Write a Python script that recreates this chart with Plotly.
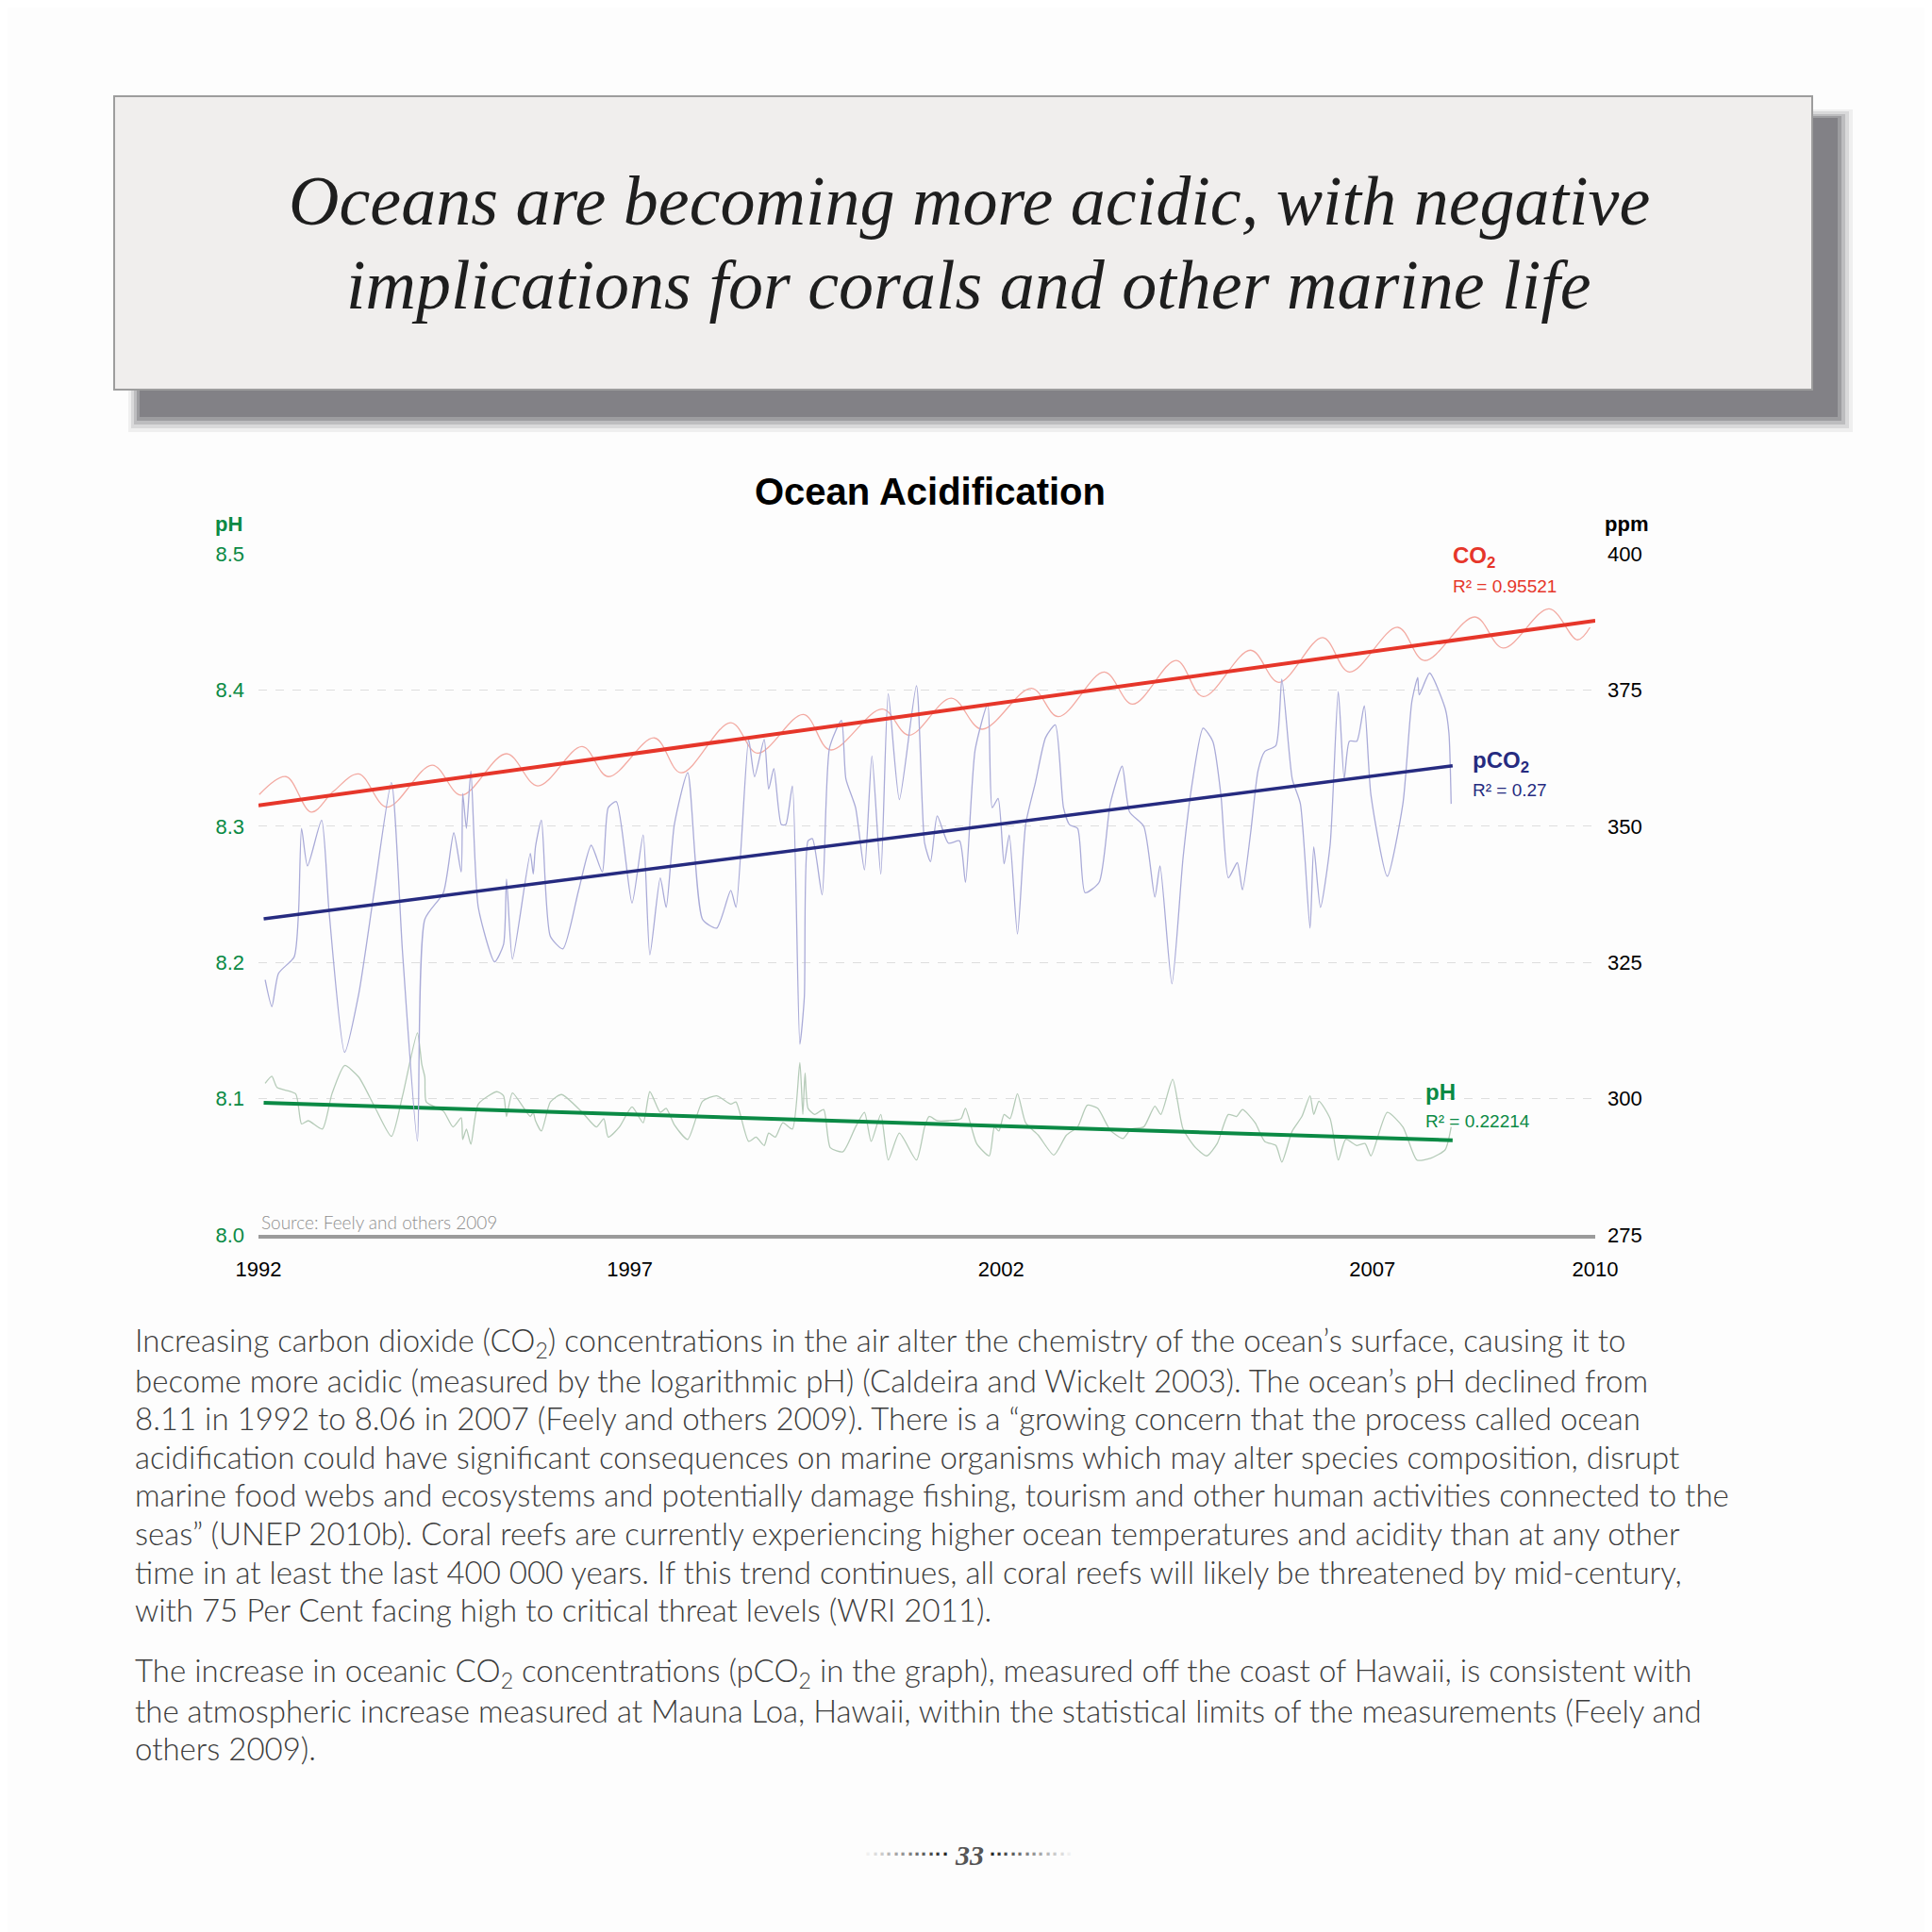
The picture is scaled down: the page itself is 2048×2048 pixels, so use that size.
import plotly.graph_objects as go

# ---------------- data ----------------
co2_years = [1992.01, 1992.37, 1992.71, 1993.01, 1993.35, 1993.73, 1994.34, 1994.73, 1995.34, 1995.76,
             1996.36, 1996.71, 1997.33, 1997.69, 1998.36, 1998.72, 1999.34, 1999.70, 2000.40, 2000.76,
             2001.33, 2001.74, 2002.41, 2002.77, 2003.39, 2003.77, 2004.36, 2004.72, 2005.36, 2005.74,
             2006.33, 2006.69, 2007.34, 2007.70, 2008.38, 2008.76, 2009.38, 2009.76, 2009.93]
co2_ppm = [355.8, 359.1, 352.6, 356.4, 359.6, 353.5, 361.2, 355.7, 363.3, 357.4,
           364.6, 359.1, 366.2, 359.8, 369.0, 363.4, 370.5, 364.0, 371.5, 366.7,
           373.5, 367.8, 375.3, 370.1, 378.3, 372.4, 380.4, 373.8, 382.3, 376.4,
           384.6, 378.3, 386.5, 380.4, 388.4, 382.7, 389.9, 384.2, 386.5]

pco2_years = [1992.09, 1992.18, 1992.27, 1992.48, 1992.54, 1992.58, 1992.66, 1992.85, 1992.95, 1993.16,
              1993.35, 1993.56, 1993.79, 1993.94, 1994.14, 1994.24, 1994.49, 1994.63, 1994.73, 1994.75,
              1994.80, 1994.86, 1994.96, 1995.18, 1995.30, 1995.34, 1995.42, 1995.66, 1995.70, 1995.73,
              1995.81, 1995.93, 1996.10, 1996.31, 1996.48, 1996.63, 1996.71, 1996.82, 1997.03, 1997.18,
              1997.27, 1997.41, 1997.49, 1997.60, 1997.78, 1997.98, 1998.17, 1998.36, 1998.43, 1998.60,
              1998.68, 1998.81, 1998.87, 1998.94, 1999.04, 1999.10, 1999.19, 1999.29, 1999.35, 1999.40,
              1999.46, 1999.59, 1999.69, 1999.85, 1999.91, 2000.04, 2000.16, 2000.26, 2000.38, 2000.48,
              2000.63, 2000.86, 2000.97, 2001.05, 2001.14, 2001.29, 2001.44, 2001.52, 2001.65, 2001.82,
              2001.88, 2001.96, 2002.04, 2002.11, 2002.22, 2002.33, 2002.46, 2002.60, 2002.73, 2002.84,
              2002.92, 2003.03, 2003.13, 2003.32, 2003.47, 2003.63, 2003.73, 2003.92, 2004.07, 2004.14,
              2004.30, 2004.45, 2004.57, 2004.72, 2004.85, 2004.96, 2005.06, 2005.18, 2005.25, 2005.36,
              2005.46, 2005.55, 2005.70, 2005.78, 2005.92, 2006.03, 2006.16, 2006.21, 2006.30, 2006.43,
              2006.54, 2006.62, 2006.69, 2006.79, 2006.89, 2006.98, 2007.20, 2007.41, 2007.53, 2007.61,
              2007.63, 2007.77, 2007.98, 2008.03, 2008.06]
pco2_ppm = [321.8, 316.9, 323.0, 326.0, 334.4, 349.6, 342.7, 351.1, 334.4, 308.5,
            319.2, 338.2, 358.0, 326.8, 292.2, 332.9, 337.8, 348.8, 341.6, 356.0,
            349.6, 360.1, 335.1, 325.1, 328.3, 340.3, 325.6, 345.0, 341.2, 346.2,
            351.1, 329.8, 327.5, 338.2, 346.5, 341.6, 353.4, 354.5, 335.9, 348.4,
            326.4, 340.5, 335.1, 350.3, 359.8, 332.9, 331.3, 338.2, 335.1, 365.9,
            359.1, 365.9, 356.8, 360.6, 350.3, 350.3, 357.4, 310.0, 318.6, 347.3,
            347.7, 337.4, 364.4, 369.4, 358.7, 353.4, 342.0, 362.9, 341.2, 374.3,
            354.9, 375.8, 346.9, 343.5, 351.9, 346.9, 347.3, 339.7, 364.0, 372.4,
            353.4, 355.1, 343.1, 348.4, 330.2, 350.3, 357.9, 366.3, 368.6, 353.4,
            350.3, 349.6, 337.8, 339.7, 354.1, 361.0, 352.6, 350.0, 337.0, 342.7,
            321.1, 344.2, 357.6, 368.0, 365.6, 355.7, 340.5, 343.3, 338.3, 348.8,
            360.2, 363.7, 364.8, 377.0, 358.7, 354.1, 331.3, 346.2, 335.1, 346.5,
            374.7, 358.7, 365.6, 365.6, 372.1, 355.7, 340.8, 354.1, 372.8, 377.3,
            374.1, 378.1, 371.6, 367.1, 354.1]

ph_years = [1992.09, 1992.18, 1992.25, 1992.50, 1992.58, 1992.67, 1992.86, 1992.99, 1993.16, 1993.35,
            1993.56, 1993.79, 1993.94, 1994.14, 1994.20, 1994.24, 1994.26, 1994.49, 1994.62, 1994.73,
            1994.75, 1994.80, 1994.86, 1994.96, 1995.21, 1995.30, 1995.34, 1995.42, 1995.66, 1995.70,
            1995.73, 1995.81, 1995.93, 1996.08, 1996.36, 1996.55, 1996.65, 1996.71, 1996.86, 1997.03,
            1997.18, 1997.27, 1997.41, 1997.49, 1997.60, 1997.78, 1997.98, 1998.17, 1998.36, 1998.43,
            1998.60, 1998.70, 1998.81, 1998.87, 1998.96, 1999.06, 1999.19, 1999.29, 1999.33, 1999.36,
            1999.40, 1999.49, 1999.61, 1999.70, 1999.87, 2000.04, 2000.16, 2000.25, 2000.38, 2000.48,
            2000.63, 2000.86, 2000.97, 2001.03, 2001.14, 2001.29, 2001.46, 2001.52, 2001.67, 2001.84,
            2001.91, 2001.97, 2002.04, 2002.12, 2002.22, 2002.33, 2002.50, 2002.71, 2002.88, 2003.03,
            2003.16, 2003.30, 2003.47, 2003.64, 2003.75, 2003.92, 2004.07, 2004.15, 2004.31, 2004.45,
            2004.62, 2004.77, 2004.91, 2005.06, 2005.17, 2005.25, 2005.42, 2005.55, 2005.70, 2005.78,
            2005.92, 2006.05, 2006.16, 2006.21, 2006.28, 2006.43, 2006.54, 2006.64, 2006.79, 2006.90,
            2006.98, 2007.20, 2007.41, 2007.60, 2007.79, 2007.98, 2008.06]
ph_values = [8.1112, 8.1164, 8.1082, 8.1036, 8.0814, 8.0838, 8.0777, 8.1036, 8.1243, 8.1158,
             8.0945, 8.0723, 8.1021, 8.1483, 8.1249, 8.1158, 8.0975, 8.0908, 8.0792, 8.0859,
             8.0701, 8.0777, 8.0665, 8.0960, 8.1051, 8.1021, 8.0869, 8.1042, 8.0869, 8.0899,
             8.0838, 8.0762, 8.0975, 8.1030, 8.0899, 8.0792, 8.0853, 8.0717, 8.0792, 8.0939,
             8.0823, 8.1051, 8.0899, 8.0929, 8.0808, 8.0701, 8.0981, 8.1021, 8.0960, 8.0975,
             8.0686, 8.0717, 8.0656, 8.0747, 8.0717, 8.0823, 8.0777, 8.1264, 8.0884, 8.1188,
             8.0929, 8.0884, 8.0920, 8.0640, 8.0610, 8.0792, 8.0899, 8.0686, 8.0884, 8.0549,
             8.0747, 8.0549, 8.0792, 8.0869, 8.0838, 8.0838, 8.0853, 8.0929, 8.0671, 8.0580,
             8.0792, 8.0762, 8.0884, 8.0853, 8.1036, 8.0823, 8.0732, 8.0586, 8.0732, 8.0792,
             8.0951, 8.0929, 8.0768, 8.0707, 8.0777, 8.0792, 8.0945, 8.0884, 8.1142, 8.0777,
             8.0640, 8.0580, 8.0671, 8.0884, 8.0869, 8.0920, 8.0823, 8.0686, 8.0656, 8.0534,
             8.0762, 8.0869, 8.1021, 8.0884, 8.0981, 8.0853, 8.0549, 8.0701, 8.0656, 8.0671,
             8.0580, 8.0899, 8.0792, 8.0549, 8.0564, 8.0625, 8.0792]

co2_trend_years = [1992.0, 2010.0]
co2_trend_ppm = [353.8, 387.7]
pco2_trend_years = [1992.07, 2008.08]
pco2_trend_ppm = [333.0, 361.1]
ph_trend_years = [1992.07, 2008.08]
ph_trend_values = [8.097, 8.0695]

x_ticks = [1992, 1997, 2002, 2007, 2010]
ph_ticks = [8.0, 8.1, 8.2, 8.3, 8.4, 8.5]
ppm_ticks = [275, 300, 325, 350, 375, 400]

body_para1 = [
    "Increasing carbon dioxide (CO<sub>2</sub>) concentrations in the air alter the chemistry of the ocean’s surface, causing it to",
    "become more acidic (measured by the logarithmic pH) (Caldeira and Wickelt 2003). The ocean’s pH declined from",
    "8.11 in 1992 to 8.06 in 2007 (Feely and others 2009). There is a “growing concern that the process called ocean",
    "acidification could have significant consequences on marine organisms which may alter species composition, disrupt",
    "marine food webs and ecosystems and potentially damage fishing, tourism and other human activities connected to the",
    "seas” (UNEP 2010b). Coral reefs are currently experiencing higher ocean temperatures and acidity than at any other",
    "time in at least the last 400 000 years. If this trend continues, all coral reefs will likely be threatened by mid-century,",
    "with 75 Per Cent facing high to critical threat levels (WRI 2011).",
]
body_para2 = [
    "The increase in oceanic CO<sub>2</sub> concentrations (pCO<sub>2</sub> in the graph), measured off the coast of Hawaii, is consistent with",
    "the atmospheric increase measured at Mauna Loa, Hawaii, within the statistical limits of the measurements (Feely and",
    "others 2009).",
]

# ---------------- layout helpers ----------------
W, H = 2048, 2048
OFF = 8  # page body margin of the html page
PW, PH = 1417, 722
L, T = 274 - OFF, 587 - OFF
R, B = W - L - PW, H - T - PH


def px(x, y):
    """Convert target-picture pixel position to paper coordinates."""
    return ((x - OFF) - L) / PW, (H - B - (y - OFF)) / PH


RED, RED_L = "#e6362a", "#f3aaa2"
NAVY, NAVY_L = "#262b80", "#aaabd8"
GREEN, GREEN_L = "#0b8a45", "#b5cbb8"
SANS = "Liberation Sans"

fig = go.Figure()
fig.add_trace(go.Scatter(x=co2_years, y=co2_ppm, yaxis="y2", mode="lines",
                         line=dict(color=RED_L, width=1.3, shape="spline", smoothing=1.0)))
fig.add_trace(go.Scatter(x=pco2_years, y=pco2_ppm, yaxis="y2", mode="lines",
                         line=dict(color=NAVY_L, width=1.3, shape="spline", smoothing=0.6)))
fig.add_trace(go.Scatter(x=ph_years, y=ph_values, yaxis="y", mode="lines",
                         line=dict(color=GREEN_L, width=1.3, shape="spline", smoothing=0.6)))
fig.add_trace(go.Scatter(x=co2_trend_years, y=co2_trend_ppm, yaxis="y2", mode="lines",
                         line=dict(color=RED, width=4)))
fig.add_trace(go.Scatter(x=pco2_trend_years, y=pco2_trend_ppm, yaxis="y2", mode="lines",
                         line=dict(color=NAVY, width=3.5)))
fig.add_trace(go.Scatter(x=ph_trend_years, y=ph_trend_values, yaxis="y", mode="lines",
                         line=dict(color=GREEN, width=4)))

shapes = []
# title box shadow (soft)
for (x0, y0, x1, y1, a) in [(136, 116, 1964, 458, 0.10), (139, 118, 1960, 454, 0.18),
                            (142, 121, 1956, 450, 0.28), (145, 123, 1952, 446, 0.45),
                            (148, 125, 1948, 442, 0.70)]:
    p0 = px(x0, y0); p1 = px(x1, y1)
    shapes.append(dict(type="rect", xref="paper", yref="paper", x0=p0[0], y0=p1[1], x1=p1[0], y1=p0[1],
                       fillcolor=f"rgba(118,117,122,{a})", line=dict(width=0)))
p0 = px(121, 102); p1 = px(1921, 413)
shapes.append(dict(type="rect", xref="paper", yref="paper", x0=p0[0], y0=p1[1], x1=p1[0], y1=p0[1],
                   fillcolor="#f0eeed", line=dict(color="#9d9d9d", width=2)))

ann = []


def add_text(x, y, text, size, color="#000", family=SANS, xanchor="center", yanchor="middle", **kw):
    ax, ay = px(x, y)
    ann.append(dict(xref="paper", yref="paper", x=ax, y=ay, text=text, showarrow=False,
                    xanchor=xanchor, yanchor=yanchor,
                    font=dict(size=size, color=color, family=family, **kw)))


# page title
add_text(1027, 213, "<i>Oceans are becoming more acidic, with negative</i>", 74, "#1e1e1e", "Liberation Serif")
add_text(1027, 302, "<i>implications for corals and other marine life</i>", 74, "#1e1e1e", "Liberation Serif")

# chart title and axis titles
add_text(986, 521, "<b>Ocean Acidification</b>", 40)
add_text(242, 555, "<b>pH</b>", 22, GREEN)
add_text(1724, 555, "<b>ppm</b>", 22)

# series labels
add_text(1538, 590, "<b>CO<sub>2</sub></b>", 24, RED, xanchor="left")
add_text(1538, 621, "R² = 0.95521", 19, RED, xanchor="left")
add_text(1559, 807, "<b>pCO<sub>2</sub></b>", 24, NAVY, xanchor="left")
add_text(1559, 837, "R² = 0.27", 19, NAVY, xanchor="left")
add_text(1509, 1157, "<b>pH</b>", 24, GREEN, xanchor="left")
add_text(1509, 1188, "R² = 0.22214", 19, GREEN, xanchor="left")

# source
add_text(275, 1295, "Source: Feely and others 2009", 19, "#8f8f8f", "Lato", xanchor="left", weight=300)

# body text
for i, line in enumerate(body_para1):
    add_text(141, 1422 + i * 40.6, line, 33, "#3c3c3c", "Lato", xanchor="left", weight=300)
for i, line in enumerate(body_para2):
    add_text(141, 1772 + i * 40.6, line, 33, "#3c3c3c", "Lato", xanchor="left", weight=300)

# page number with fading dotted leaders
add_text(1027, 1966, "<b><i>33</i></b>", 30, "#555555", "Liberation Serif")
n_dots = 12
for k in range(n_dots):
    shade = int(40 + k * (200 / (n_dots - 1)))
    col = f"rgb({shade},{shade},{shade})"
    add_text(1002 - k * 7.4, 1965, "<b>·</b>", 22, col)
    add_text(1052 + k * 7.4, 1965, "<b>·</b>", 22, col)

fig.update_layout(
    width=W, height=H,
    margin=dict(l=L, r=R, t=T, b=B, pad=0),
    paper_bgcolor="#fdfdfd", plot_bgcolor="#fdfdfd",
    showlegend=False,
    shapes=shapes, annotations=ann,
    xaxis=dict(range=[1992, 2010], tickvals=x_ticks, ticktext=[str(v) for v in x_ticks],
               showgrid=False, zeroline=False, showline=True, linecolor="#9b9b9b", linewidth=4,
               ticks="", ticklabelstandoff=14,
               tickfont=dict(family=SANS, size=22, color="#000")),
    yaxis=dict(range=[8.0, 8.5], tickvals=ph_ticks, tickformat=".1f",
               showgrid=True, gridcolor="#dedede", griddash="dash", gridwidth=1,
               zeroline=False, showline=False, ticks="", ticklabelstandoff=14,
               tickfont=dict(family=SANS, size=22, color=GREEN)),
    yaxis2=dict(range=[275, 400], tickvals=ppm_ticks, overlaying="y", side="right",
                showgrid=False, zeroline=False, showline=False, ticks="", ticklabelstandoff=12,
                tickfont=dict(family=SANS, size=22, color="#000")),
)

fig.write_html("out.html")
